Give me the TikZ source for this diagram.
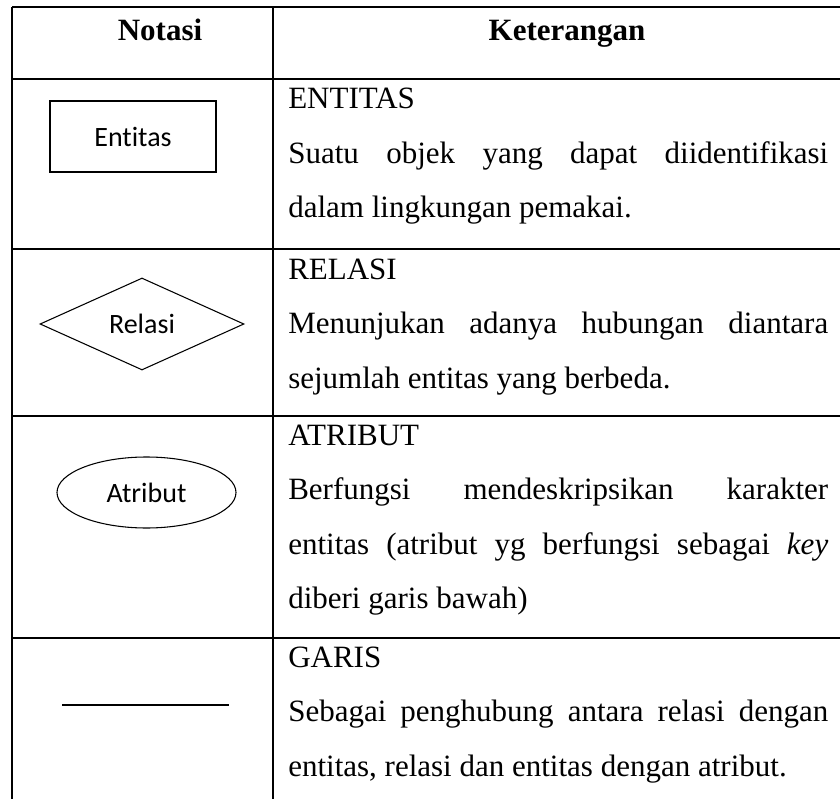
\documentclass[tikz,border=0pt]{standalone}
\usepackage{fontspec}
\setmainfont{Liberation Serif}
\newfontfamily\labelfont[Ligatures=NoCommon]{Carlito}
\usetikzlibrary{shapes.geometric}
% one justified line of the description column
\newcommand\jline[1]{\makebox[405pt][s]{#1}}
\begin{document}
\begin{tikzpicture}[x=0.75pt,y=-0.75pt,
  rule/.style={line width=1.1pt},
  notation/.style={draw, line width=0.8pt, inner sep=0pt,
    font=\labelfont\fontsize{21}{25}\selectfont},
  txt/.style={anchor=base west, inner sep=0pt,
    font=\fontsize{23.25}{28}\selectfont},
  head/.style={anchor=base, inner sep=0pt,
    font=\bfseries\fontsize{23.25}{28}\selectfont}]
\useasboundingbox (0,0) rectangle (840,799);

% table rules
\foreach \yy in {7,79,249,416,638}
  \draw[rule] (12,\yy) -- (840,\yy);
\draw[rule] (12,7) -- (12,799);
\draw[rule] (273,7) -- (273,799);

% header
\node[head] (hnot) at (160,41) {Notasi};
\node[head] (hket) at (567,41) {Keterangan};

% notation symbols
\node[notation, rectangle, minimum width=124.5pt, minimum height=53.25pt]
  (ent) at (133,136.5) {Entitas};
\node[notation, diamond, minimum width=153pt, minimum height=69pt]
  (rel) at (142,324) {Relasi};
\node[notation, ellipse, minimum width=134.25pt, minimum height=53.25pt]
  (atr) at (146.5,492.5) {Atribut};
\coordinate (ga) at (62,705);
\coordinate (gb) at (229,705);
\draw[line width=0.8pt] (ga) -- (gb);

% descriptions
\node[txt] (e1) at (288,109) {ENTITAS};
\node[txt] (e2) at (288,163.5) {\jline{Suatu objek yang dapat diidentifikasi}};
\node[txt] (e3) at (288,218) {dalam lingkungan pemakai.};

\node[txt] (r1) at (288,279) {RELASI};
\node[txt] (r2) at (288,333.5) {\jline{Menunjukan adanya hubungan diantara}};
\node[txt] (r3) at (288,388) {sejumlah entitas yang berbeda.};

\node[txt] (a1) at (288,445) {ATRIBUT};
\node[txt] (a2) at (288,499.5) {\jline{Berfungsi mendeskripsikan karakter}};
\node[txt] (a3) at (288,554) {\jline{entitas (atribut yg berfungsi sebagai \textit{key}}};
\node[txt] (a4) at (288,608.5) {diberi garis bawah)};

\node[txt] (g1) at (288,667) {GARIS};
\node[txt] (g2) at (288,721.5) {\jline{Sebagai penghubung antara relasi dengan}};
\node[txt] (g3) at (288,776) {entitas, relasi dan entitas dengan atribut.};
\end{tikzpicture}
\end{document}
